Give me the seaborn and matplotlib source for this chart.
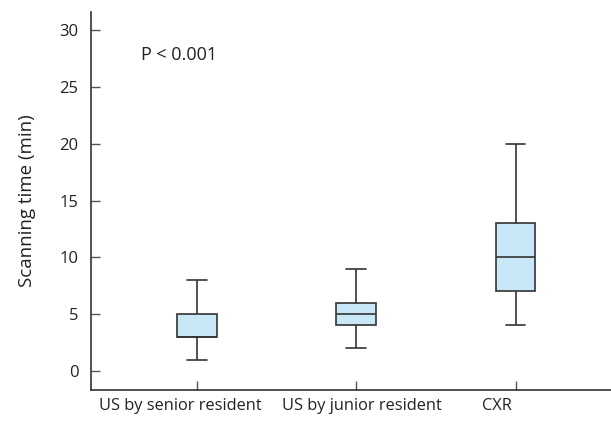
import matplotlib
matplotlib.use("Agg")
import matplotlib.pyplot as plt
import matplotlib.transforms as mtransforms
import seaborn as sns
import pandas as pd

categories = ["US by senior resident", "US by junior resident", "CXR"]
# five-number summaries: min, Q1, median, Q3, max
senior = [1, 3, 3, 5, 8]
junior = [2, 4, 5, 6, 9]
cxr = [4, 7, 10, 13, 20]
yticks = [0, 5, 10, 15, 20, 25, 30]

df = pd.DataFrame({
    "group": [categories[0]] * len(senior) + [categories[1]] * len(junior) + [categories[2]] * len(cxr),
    "time": senior + junior + cxr,
})

sns.set_style("white")
plt.rcParams["font.family"] = ["Open Sans", "DejaVu Sans"]

fig = plt.figure(figsize=(6.11, 4.21), dpi=100)
ax = fig.add_axes([0.149, 0.074, 0.851, 0.897])

edge = "#333333"
sns.boxplot(data=df, x="group", y="time", order=categories, ax=ax,
            width=0.25, whis=(0, 100), color="#c8e8f7", linecolor=edge,
            linewidth=1.2, fill=True, saturation=1, showfliers=False)

ax.set_xlim(-0.667, 2.6)
ax.set_ylim(-1.67, 31.6)
ax.set_yticks(yticks)
ax.set_yticklabels([str(t) for t in yticks], fontsize=12)
ax.set_xticks(range(len(categories)))
ax.set_xticklabels(categories, fontsize=11.8)
ax.set_xlabel("")
ax.set_ylabel("Scanning time (min)", fontsize=13.5, labelpad=17, color="#222222")
ax.tick_params(axis="both", direction="in", length=6.5, width=1, color="#555555",
               labelcolor="#222222", bottom=True, left=True)
ax.tick_params(axis="y", pad=9)
ax.tick_params(axis="x", pad=6)
for s in ["top", "right"]:
    ax.spines[s].set_visible(False)
for s in ["left", "bottom"]:
    ax.spines[s].set_color("#333333")
    ax.spines[s].set_linewidth(1.2)

# labels in the reference sit slightly off-center from their ticks
shifts_px = [-17, 6, -19]
for lab, dx in zip(ax.get_xticklabels(), shifts_px):
    lab.set_transform(lab.get_transform() + mtransforms.ScaledTranslation(dx / 100, 0, fig.dpi_scale_trans))

ax.text(-0.35, 27.8, "P < 0.001", fontsize=13, va="center", ha="left", color="#222222")

fig.savefig("out.png", dpi=100)
